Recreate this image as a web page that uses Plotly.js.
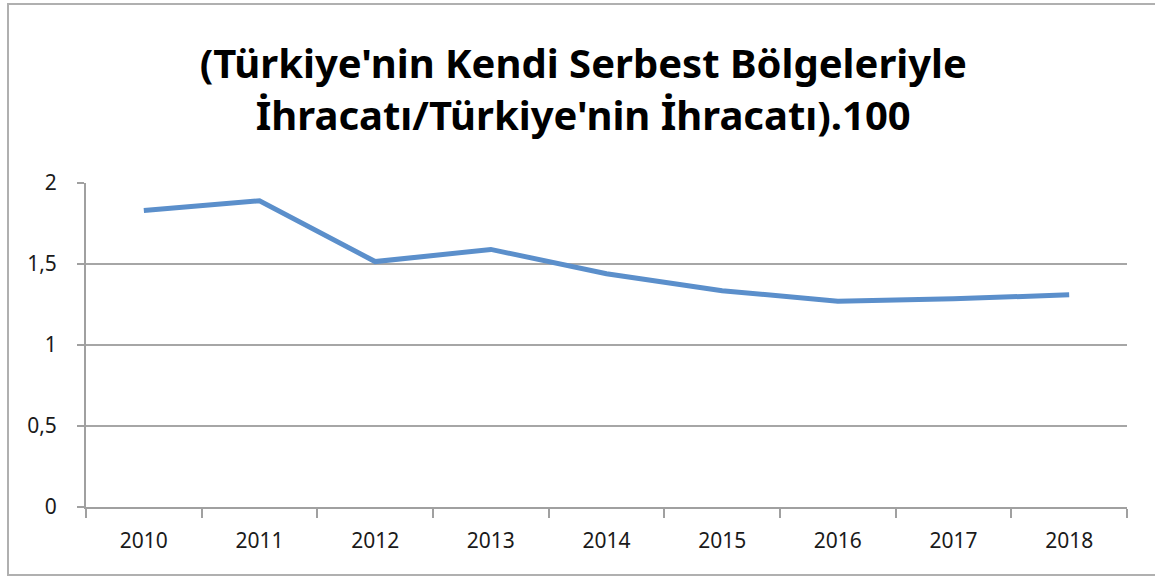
<!DOCTYPE html>
<html>
<head>
<meta charset="utf-8">
<script src="https://cdn.plot.ly/plotly-3.0.1.min.js"></script>
<style>
html,body{margin:0;padding:0;background:#fff;overflow:hidden;}
#chart{position:absolute;left:0;top:0;width:1155px;height:576px;}
#frame{position:absolute;left:7px;top:3px;width:1160px;height:569px;border:2px solid #b0b0b0;pointer-events:none;}
</style>
</head>
<body>
<div id="chart"></div>
<div id="frame"></div>
<script>
const years = ["2010","2011","2012","2013","2014","2015","2016","2017","2018"];
const ratio = [1.83, 1.89, 1.515, 1.59, 1.44, 1.335, 1.27, 1.285, 1.31];
const yTickVals = [0, 0.5, 1, 1.5, 2];
const yTickText = ["0", "0,5", "1", "1,5", "2"];
const titleText = "(Türkiye'nin Kendi Serbest Bölgeleriyle<br>İhracatı/Türkiye'nin İhracatı).100";

const trace = {
  x: years, y: ratio, type: 'scatter', mode: 'lines',
  line: {color: '#5b8fcb', width: 5},
  hoverinfo: 'skip'
};

const layout = {
  width: 1155, height: 576,
  margin: {l: 86, r: 28, t: 183, b: 69},
  paper_bgcolor: '#fff', plot_bgcolor: '#fff',
  showlegend: false,
  font: {family: 'Noto Sans, Open Sans, sans-serif', color: '#1a1a1a'},
  title: {
    text: titleText,
    font: {family: 'Noto Sans, sans-serif', size: 40, color: '#000', weight: 'bold'},
    x: 0.505, xref: 'container', xanchor: 'center',
    y: 1 - 78/576, yref: 'container', yanchor: 'top'
  },
  xaxis: {
    type: 'category',
    tickson: 'boundaries',
    ticks: 'outside', ticklen: 9, tickcolor: '#a0a0a0', tickwidth: 2,
    showline: true, linecolor: '#a0a0a0', linewidth: 2,
    showgrid: false, zeroline: false,
    tickfont: {size: 21, color: '#1a1a1a'},
    ticklabelstandoff: 14,
    range: [-0.5, 8.5]
  },
  yaxis: {
    range: [0, 2], tickvals: yTickVals, ticktext: yTickText,
    ticks: 'outside', ticklen: 7, tickcolor: '#a0a0a0', tickwidth: 2,
    showline: true, linecolor: '#a0a0a0', linewidth: 2,
    showgrid: true, gridcolor: '#a6a6a6', gridwidth: 2,
    zeroline: false,
    tickfont: {size: 21, color: '#1a1a1a'},
    ticklabelstandoff: 16
  }
};

Plotly.newPlot('chart', [trace], layout, {displayModeBar: false, staticPlot: true});
</script>
</body>
</html>
